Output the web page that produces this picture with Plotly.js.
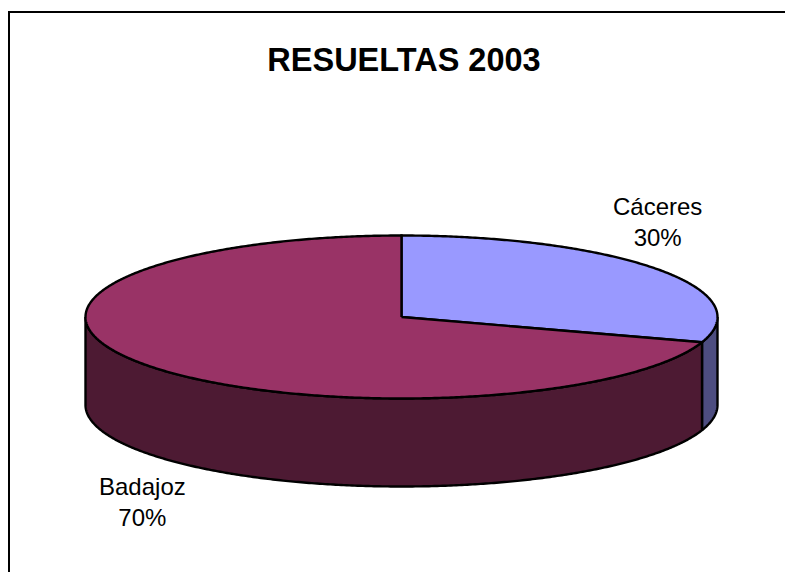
<!DOCTYPE html>
<html>
<head>
<meta charset="utf-8">
<script src="https://cdn.plot.ly/plotly-3.0.1.min.js"></script>
<style>html,body{margin:0;padding:0;background:#fff;overflow:hidden}#c{width:785px;height:572px}</style>
</head>
<body>
<div id="c"></div>
<script>
const chartTitle = 'RESUELTAS 2003';
const categories = ['Cáceres', 'Badajoz'];
const values = [30, 70];
const topColors = ['#9999FF', '#993366'];
const wallColors = ['#4D4D80', '#4D1A33'];

// Pie geometry, in axis units (the axes are set up 1:1 with the page)
const cx = 401.5, cy = 317, rx = 316, ry = 81.5, depth = 88;
const START = -90; // degrees, screen coordinates, clockwise
const total = values.reduce((a, b) => a + b, 0);

function arc(a0, a1, dy) {
  const xs = [], ys = [];
  const n = Math.max(2, Math.ceil(Math.abs(a1 - a0) * 2));
  for (let i = 0; i <= n; i++) {
    const t = (a0 + (a1 - a0) * i / n) * Math.PI / 180;
    xs.push(cx + rx * Math.cos(t));
    ys.push(cy + ry * Math.sin(t) + dy);
  }
  return [xs, ys];
}
function poly(xs, ys, color) {
  return {
    type: 'scatter', mode: 'lines', x: xs, y: ys, fill: 'toself', fillcolor: color,
    line: {color: '#000', width: 2.4, simplify: false}, hoverinfo: 'skip', showlegend: false
  };
}

const walls = [], tops = [];
let acc = START;
values.forEach((v, i) => {
  const a0 = acc, a1 = acc + v / total * 360;
  acc = a1;
  // top face
  const [tx, ty] = arc(a0, a1, 0);
  tops.push(poly([cx, ...tx, cx], [cy, ...ty, cy], topColors[i]));
  // visible front wall: the part of the slice between 0 and 180 degrees
  const w0 = Math.max(a0, 0), w1 = Math.min(a1, 180);
  if (w1 > w0) {
    const [ux, uy] = arc(w0, w1, 0);
    const [lx, ly] = arc(w1, w0, depth);
    walls.push(poly([...ux, ...lx, ux[0]], [...uy, ...ly, uy[0]], wallColors[i]));
  }
});

const labelAnchors = [[657, 222], [142, 502]];
const annotations = categories.map((c, i) => ({
  x: labelAnchors[i][0], y: labelAnchors[i][1], xref: 'x', yref: 'y',
  text: c + '<br>' + Math.round(values[i] / total * 100) + '%',
  showarrow: false, xanchor: 'center', yanchor: 'middle', align: 'center',
  font: {family: 'Liberation Sans, Arial, sans-serif', size: 24, color: '#000'}
}));

const frame = {color: '#000', width: 2};
const layout = {
  width: 785, height: 572,
  margin: {l: 0, r: 0, t: 0, b: 0},
  paper_bgcolor: '#fff', plot_bgcolor: '#fff',
  showlegend: false,
  title: {
    text: '<b>' + chartTitle + '</b>', x: 404 / 785, xanchor: 'center', y: 1 - 60 / 572, yanchor: 'middle',
    font: {family: 'Liberation Sans, Arial, sans-serif', size: 32.5, color: '#000'}
  },
  xaxis: {range: [0, 785], visible: false, fixedrange: true},
  yaxis: {range: [572, 0], visible: false, fixedrange: true},
  annotations,
  shapes: [
    {type: 'line', xref: 'x', yref: 'y', x0: 9, x1: 9, y0: 11, y1: 572, line: frame},
    {type: 'line', xref: 'x', yref: 'y', x0: 8, x1: 785, y0: 12, y1: 12, line: frame}
  ]
};
Plotly.newPlot('c', [...walls, ...tops], layout, {displayModeBar: false, staticPlot: true});
</script>
</body>
</html>
